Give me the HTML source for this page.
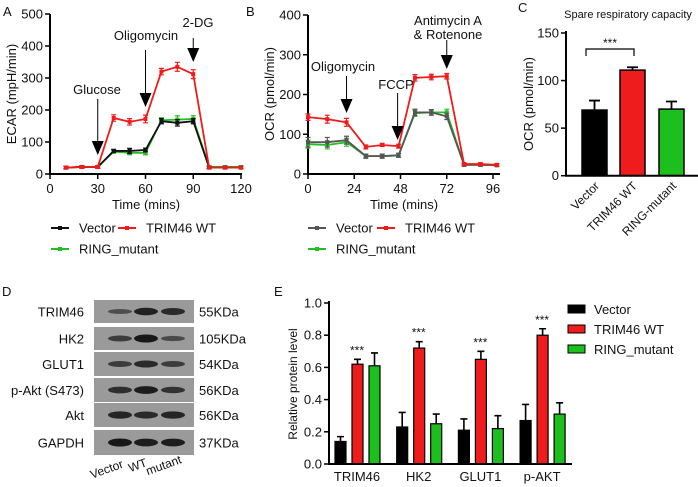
<!DOCTYPE html>
<html><head><meta charset="utf-8"><style>
body{margin:0;background:#fff}
svg{display:block;font-family:"Liberation Sans",Arial,sans-serif}
</style></head><body>
<svg id="fig" width="698" height="487" viewBox="0 0 698 487">
<g id="A"></g>
<g id="B"></g>
<g id="C"></g>
<g id="D"></g>
<g id="E"></g>
</svg>
<script>
// Panel A data
const aTimes=[10,20,30,40,50,60,70,80,90,100,110,120];
const aRed=[20,22,22,175,163,172,320,335,312,20,20,20];
const aRedErr=[4,4,4,10,10,12,10,14,14,4,4,4];
const aBlack=[20,22,22,72,72,75,165,160,165,20,20,20];
const aBlackErr=[4,4,4,5,8,6,8,10,8,4,4,4];
const aGreen=[20,22,22,70,66,66,168,170,172,22,22,22];
const aGreenErr=[4,4,4,5,6,6,8,12,10,4,4,4];
const aXTicks=[0,30,60,90,120];
const aYTicks=[0,100,200,300,400,500];
// Panel B data
const bTimes=[0,10,20,30,38.5,47,55.5,64,72,81,89.5,98];
const bRed=[143,138,130,68,73,70,242,244,246,25,25,23];
const bRedErr=[8,10,10,5,4,5,8,7,7,3,3,3];
const bGray=[80,80,85,45,45,47,155,155,145,23,23,22];
const bGrayErr=[12,12,10,5,5,5,8,7,8,3,3,3];
const bGreen=[75,73,80,45,45,47,153,155,155,23,23,22];
const bGreenErr=[10,10,10,5,5,5,8,7,8,3,3,3];
const bXTicks=[0,24,48,72,96];
const bYTicks=[0,100,200,300,400];
// Panel C data
const cCats=["Vector","TRIM46 WT","RING-mutant"];
const cVals=[69,111,70];
const cErrs=[10,3,8];
const cYTicks=[0,50,100,150];
// Panel E data
const eCats=["TRIM46","HK2","GLUT1","p-AKT"];
const eVector=[0.14,0.23,0.21,0.27];
const eVectorErr=[0.03,0.09,0.07,0.10];
const eWT=[0.62,0.72,0.65,0.80];
const eWTErr=[0.03,0.04,0.05,0.04];
const eMut=[0.61,0.25,0.22,0.31];
const eMutErr=[0.08,0.06,0.08,0.07];
const eYTicks=[0,0.2,0.4,0.6,0.8,1.0];
// Panel D
const blotRows=["TRIM46","HK2","GLUT1","p-Akt (S473)","Akt","GAPDH"];
const blotKDa=["55KDa","105KDa","54KDa","56KDa","56KDa","37KDa"];
const blotIntensity=[[0.4,0.9,0.8],[0.6,1,0.45],[0.6,0.8,0.6],[0.75,0.95,0.7],[0.85,0.8,0.85],[1,0.95,0.95]];
const lanes=["Vector","WT","mutant"];

const NS="http://www.w3.org/2000/svg";
function el(p,t,a,txt){const e=document.createElementNS(NS,t);for(const k in a)e.setAttribute(k,a[k]);if(txt!==undefined)e.textContent=txt;p.appendChild(e);return e;}
function txt(p,x,y,s,opt){opt=opt||{};const e=el(p,'text',{x:x,y:y,'font-size':opt.fs||12,'text-anchor':opt.a||'middle',fill:opt.fill||'#111'},s);if(opt.rot)e.setAttribute('transform',`rotate(${opt.rot} ${x} ${y})`);return e;}

function linePanel(g,o){
  const sx=v=>o.x0+(v-o.xmin)/(o.xmax-o.xmin)*(o.x1-o.x0);
  const sy=v=>o.y0-(v-o.ymin)/(o.ymax-o.ymin)*(o.y0-o.y1);
  let e=el(g,'path',{d:`M${o.x0},${o.y1}V${o.y0}H${o.xe}`,stroke:'#000','stroke-width':2,fill:'none'});
  
  o.yt.forEach(v=>{el(g,'line',{x1:o.x0-5,x2:o.x0,y1:sy(v),y2:sy(v),stroke:'#000','stroke-width':1.5});const t=txt(g,o.x0-7,sy(v)+4.5,v,{a:'end',fs:13});});
  o.xt.forEach(v=>{el(g,'line',{x1:sx(v),x2:sx(v),y1:o.y0,y2:o.y0+5,stroke:'#000','stroke-width':1.5});const t=txt(g,sx(v),o.y0+19,v,{fs:13});});
  o.series.forEach(s=>{
    const sg=el(g,'g',{});
    
    
    let d='';o.t.forEach((t,i)=>{d+=(i?'L':'M')+sx(t)+','+sy(s.v[i]);});
    el(sg,'path',{d:d,stroke:s.c,'stroke-width':1.8,fill:'none'});
    o.t.forEach((t,i)=>{const x=sx(t),y=sy(s.v[i]),y1=sy(s.v[i]+s.e[i]),y2=sy(s.v[i]-s.e[i]);
      el(sg,'path',{d:`M${x},${y1}V${y2}M${x-2.5},${y1}H${x+2.5}M${x-2.5},${y2}H${x+2.5}`,stroke:s.c,'stroke-width':1.2,fill:'none'});
      const p=el(sg,'rect',{x:x-2,y:y-2,width:4,height:4,fill:s.c});
      });
  });
  return {sx,sy};
}
function arrow(g,x,yTop,yTip,name){
  const a=el(g,'g',{});
  el(a,'line',{x1:x,x2:x,y1:yTop,y2:yTip-12,stroke:'#000','stroke-width':1});
  el(a,'path',{d:`M${x-6},${yTip-14}L${x+6},${yTip-14}L${x},${yTip}Z`,fill:'#000'});
}
function legend(g,x,y,items){
  items.forEach(it=>{const lg=el(g,'g',{});
    el(lg,'line',{x1:it.x,x2:it.x+18,y1:it.y,y2:it.y,stroke:it.c,'stroke-width':2});
    el(lg,'rect',{x:it.x+7,y:it.y-2,width:4,height:4,fill:it.c});
    txt(lg,it.x+28,it.y+4.5,it.l,{a:'start',fs:13});});
}

// Panel A
const A=document.getElementById('A');
txt(A,3,16,'A',{a:'start',fs:13});
const sa=linePanel(A,{x0:50,x1:241,xe:242,y0:174,y1:14,xmin:0,xmax:120,ymin:0,ymax:500,xt:aXTicks,yt:aYTicks,t:aTimes,
 series:[{name:'green',v:aGreen,e:aGreenErr,c:'#22c022'},{name:'black',v:aBlack,e:aBlackErr,c:'#111'},{name:'red',v:aRed,e:aRedErr,c:'#ee1c1c'}]});
txt(A,16,94,'ECAR (mpH/min)',{rot:-90,fs:13});
txt(A,146,209,'Time (mins)',{fs:13});
arrow(A,sa.sx(30),99,155,'glucose-arrow');txt(A,97,94,'Glucose',{fs:13});
arrow(A,sa.sx(60),50,107,'oligomycin-arrow');txt(A,146,40,'Oligomycin',{fs:13});
arrow(A,sa.sx(90),38,62,'2dg-arrow');txt(A,198,27,'2-DG',{fs:13});
legend(A,0,0,[{x:51,y:228,c:'#111',l:'Vector'},{x:118,y:228,c:'#ee1c1c',l:'TRIM46 WT'},{x:51,y:249,c:'#22c022',l:'RING_mutant'}]);

// Panel B
const B=document.getElementById('B');
txt(B,246,16,'B',{a:'start',fs:13});
const sb=linePanel(B,{x0:308,x1:493,xe:500,y0:174,y1:15,xmin:0,xmax:96,ymin:0,ymax:400,xt:bXTicks,yt:bYTicks,t:bTimes,
 series:[{name:'green',v:bGreen,e:bGreenErr,c:'#22c022'},{name:'gray',v:bGray,e:bGrayErr,c:'#555'},{name:'red',v:bRed,e:bRedErr,c:'#ee1c1c'}]});
txt(B,274,94,'OCR (pmol/min)',{rot:-90,fs:13});
txt(B,404,209,'Time (mins)',{fs:13});
arrow(B,sb.sx(20),76,113,'oligomycin-arrow-b');txt(B,343,71,'Oligomycin',{fs:13});
arrow(B,sb.sx(46.5),93,140,'fccp-arrow');txt(B,396,89,'FCCP',{fs:13});
arrow(B,sb.sx(72),40,69,'antimycin-arrow');txt(B,448,25,'Antimycin A',{fs:13});txt(B,448,39,'& Rotenone',{fs:13});
legend(B,0,0,[{x:308,y:228,c:'#555',l:'Vector'},{x:377,y:228,c:'#ee1c1c',l:'TRIM46 WT'},{x:308,y:249,c:'#22c022',l:'RING_mutant'}]);

// Panel C
const C=document.getElementById('C');
txt(C,518,12,'C',{a:'start',fs:13});
txt(C,628,18,'Spare respiratory capacity',{fs:11});
{const y0=175.7,y1=33,x0=566,sy=v=>y0-v/150*(y0-y1);
 const cols=['#000','#ee1c1c','#1cbf1c'];const bx=[582,620,659];
 cVals.forEach((v,i)=>{
  el(C,'path',{d:`M${bx[i]+12.5},${sy(v)}V${sy(v+cErrs[i])}M${bx[i]+7},${sy(v+cErrs[i])}H${bx[i]+18}`,stroke:'#000','stroke-width':1.8});
  const r=el(C,'rect',{x:bx[i],y:sy(v),width:25,height:y0-sy(v),fill:cols[i],stroke:'#000','stroke-width':1.5});
  
  const t=txt(C,bx[i]+18,y0+11,cCats[i],{a:'end',fs:12,rot:-45});
 });
 el(C,'path',{d:`M${x0},${y1-2}V${y0}H698`,stroke:'#000','stroke-width':2,fill:'none'});
 cYTicks.forEach(v=>{el(C,'line',{x1:x0-5,x2:x0,y1:sy(v),y2:sy(v),stroke:'#000','stroke-width':1.5});txt(C,x0-7,sy(v)+4.5,v,{a:'end',fs:13});});
 el(C,'path',{d:`M586,56V49H634V56`,stroke:'#000','stroke-width':1.2,fill:'none'});
 txt(C,610,47,'***',{fs:12});
 txt(C,533,104,'OCR (pmol/min)',{rot:-90,fs:13});
}

// Panel D
const D=document.getElementById('D');
txt(D,2,296,'D',{a:'start',fs:13});
const rowY=[[300,323],[327,350],[352,376],[378,402],[403,427],[430,455]];
const laneX=[120,146,173];
blotRows.forEach((n,i)=>{
  const [a,b]=rowY[i];
  const r=el(D,'rect',{x:94,y:a,width:100,height:b-a,fill:'#9a9a9a'});
  
  blotIntensity[i].forEach((v,j)=>{
    el(D,'ellipse',{cx:laneX[j],cy:(a+b)/2,rx:12,ry:1.5+v*2.5,fill:'#111','fill-opacity':0.3+0.65*v});
  });
  txt(D,84,(a+b)/2+5,n,{a:'end',fs:13});
  txt(D,199,(a+b)/2+5,blotKDa[i],{a:'start',fs:13});
});
const laneLX=[108,139,165],laneLY=[473,469,469];
lanes.forEach((l,j)=>txt(D,laneLX[j],laneLY[j],l,{fs:12,rot:-20,a:'middle'}));

// Panel E
const E=document.getElementById('E');
txt(E,274,296,'E',{a:'start',fs:13});
{const y0=464,y1=303,x0=329,sy=v=>y0-v*(y0-y1);
 const series=[[eVector,eVectorErr,'#000'],[eWT,eWTErr,'#ee1c1c'],[eMut,eMutErr,'#1cbf1c']];
 eCats.forEach((c,gi)=>{
  const gx=335+gi*61.7;
  series.forEach((s,si)=>{
   const x=gx+si*17,v=s[0][gi],e=s[1][gi];
   el(E,'path',{d:`M${x+5.5},${sy(v)}V${sy(v+e)}M${x+2},${sy(v+e)}H${x+9}`,stroke:'#000','stroke-width':1.6});
   const r=el(E,'rect',{x:x,y:sy(v),width:11,height:y0-sy(v),fill:s[2],stroke:'#000','stroke-width':1.2});
   
  });
  txt(E,gx+22,sy(eWT[gi]+eWTErr[gi])-5,'***',{fs:12});
  txt(E,gx+22,y0+17,c,{fs:13});
 });
 el(E,'path',{d:`M${x0},${y1-2}V${y0}H572`,stroke:'#000','stroke-width':2,fill:'none'});
 eYTicks.forEach(v=>{el(E,'line',{x1:x0-5,x2:x0,y1:sy(v),y2:sy(v),stroke:'#000','stroke-width':1.5});txt(E,x0-7,sy(v)+4.5,v.toFixed(1),{a:'end',fs:13});});
 txt(E,297,384,'Relative protein level',{rot:-90,fs:12});
 const lab=['Vector','TRIM46 WT','RING_mutant'];
 series.forEach((s,i)=>{const lg=el(E,'g',{});
  el(lg,'rect',{x:568,y:305+i*20,width:17,height:8,fill:s[2],stroke:'#000','stroke-width':1});
  txt(lg,594,314+i*20,lab[i],{a:'start',fs:13});});
}
</script>
</body></html>
